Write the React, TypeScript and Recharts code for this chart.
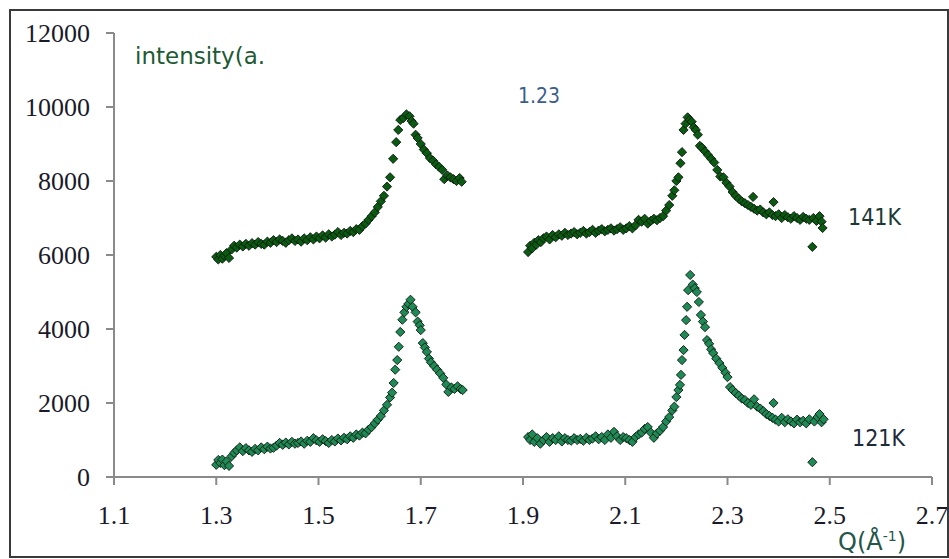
import { ScatterChart, Scatter, XAxis, YAxis } from "recharts";

// 141K, first window
const q141a = [
  1.300, 1.304, 1.308, 1.312, 1.316, 1.320, 1.325, 1.330, 1.335, 1.340, 1.346, 1.352, 1.358, 1.364, 1.370, 1.376,
  1.382, 1.388, 1.394, 1.400, 1.406, 1.412, 1.418, 1.424, 1.430, 1.436, 1.442, 1.448, 1.454, 1.460, 1.466, 1.472,
  1.478, 1.484, 1.490, 1.496, 1.502, 1.508, 1.514, 1.520, 1.526, 1.532, 1.538, 1.544, 1.550, 1.556, 1.562, 1.568,
  1.574, 1.580, 1.586, 1.592, 1.598, 1.604, 1.610, 1.616, 1.622, 1.628, 1.634, 1.640, 1.646, 1.652, 1.656, 1.660,
  1.666, 1.672, 1.678, 1.682, 1.686, 1.690, 1.694, 1.700, 1.706, 1.712, 1.718, 1.724, 1.730, 1.736, 1.742, 1.746,
  1.752, 1.758, 1.764, 1.770, 1.776, 1.780,
];
const i141a = [
  5950, 5880, 6000, 5900, 5980, 6050, 5920, 6150, 6250, 6200, 6280, 6230, 6300, 6250, 6320, 6280,
  6350, 6300, 6280, 6360, 6330, 6400, 6350, 6420, 6380, 6330, 6400, 6450, 6380, 6420, 6360, 6450,
  6400, 6480, 6420, 6500, 6450, 6530, 6470, 6560, 6500, 6550, 6620, 6540, 6600, 6580, 6650, 6620,
  6700, 6680, 6780, 6850, 6950, 7050, 7150, 7300, 7450, 7600, 7850, 8100, 8600, 9050, 9380, 9650,
  9700, 9800, 9750, 9620, 9550, 9250, 9160, 9000, 8850, 8750, 8620, 8550, 8450, 8380, 8300, 8050,
  8150, 8100, 8050, 8000, 8080, 7980,
];

// 141K, second window
const q141b = [
  1.910, 1.914, 1.918, 1.922, 1.926, 1.930, 1.935, 1.940, 1.946, 1.952, 1.958, 1.964, 1.970, 1.976, 1.982, 1.988,
  1.994, 2.000, 2.006, 2.012, 2.018, 2.024, 2.030, 2.036, 2.042, 2.048, 2.054, 2.060, 2.066, 2.072, 2.078, 2.084,
  2.090, 2.096, 2.102, 2.108, 2.114, 2.120, 2.126, 2.132, 2.138, 2.144, 2.150, 2.156, 2.162, 2.168, 2.174, 2.180,
  2.186, 2.192, 2.196, 2.200, 2.204, 2.208, 2.211, 2.214, 2.218, 2.222, 2.226, 2.230, 2.234, 2.238, 2.242, 2.246,
  2.250, 2.256, 2.262, 2.268, 2.274, 2.280, 2.286, 2.292, 2.298, 2.304, 2.310, 2.316, 2.322, 2.328, 2.334, 2.340,
  2.346, 2.350, 2.352, 2.358, 2.364, 2.370, 2.376, 2.382, 2.388, 2.390, 2.394, 2.400, 2.406, 2.412, 2.418, 2.424,
  2.430, 2.436, 2.442, 2.448, 2.454, 2.460, 2.466, 2.468, 2.474, 2.480, 2.484, 2.486,
];
const i141b = [
  6080, 6250, 6180, 6330, 6280, 6400, 6350, 6450, 6500, 6420, 6540, 6480, 6560, 6520, 6600, 6540,
  6580, 6620, 6560, 6600, 6650, 6580, 6620, 6680, 6600, 6660, 6700, 6640, 6680, 6720, 6660, 6700,
  6750, 6680, 6720, 6780, 6720, 6800, 6950, 6900, 6980, 6850, 6920, 6980, 6940, 7000, 7050, 7200,
  7350, 7600, 7750, 8000, 8100, 8480, 8780, 9380, 9550, 9720, 9650, 9600, 9450, 9380, 9250, 8950,
  8900, 8800, 8700, 8600, 8500, 8300, 8120, 8100, 7950, 7850, 7700, 7600, 7520, 7450, 7400, 7350,
  7300, 7570, 7250, 7200, 7230, 7150, 7100, 7150, 7080, 7430, 7050, 7100, 7000, 7080, 7020, 6980,
  7050, 7000, 6950, 7030, 6980, 6950, 6220, 7000, 6920, 7050, 6900, 6730,
];

// 121K, first window
const q121a = [
  1.300, 1.304, 1.308, 1.312, 1.316, 1.320, 1.325, 1.330, 1.335, 1.340, 1.346, 1.352, 1.358, 1.364, 1.370, 1.376,
  1.382, 1.388, 1.394, 1.400, 1.406, 1.412, 1.418, 1.424, 1.430, 1.436, 1.442, 1.448, 1.454, 1.460, 1.466, 1.472,
  1.478, 1.484, 1.490, 1.496, 1.502, 1.508, 1.514, 1.520, 1.526, 1.532, 1.538, 1.544, 1.550, 1.556, 1.562, 1.568,
  1.574, 1.580, 1.586, 1.592, 1.598, 1.604, 1.610, 1.616, 1.622, 1.628, 1.634, 1.640, 1.644, 1.647, 1.650, 1.654,
  1.657, 1.660, 1.664, 1.668, 1.672, 1.676, 1.680, 1.684, 1.690, 1.694, 1.698, 1.700, 1.704, 1.708, 1.712, 1.716,
  1.720, 1.726, 1.732, 1.738, 1.744, 1.750, 1.754, 1.760, 1.766, 1.772, 1.778, 1.782,
];
const i121a = [
  330, 460, 380, 470, 320, 420, 300, 560, 650, 720, 800, 700, 780, 720, 680, 760,
  720, 800, 750, 820, 770, 790, 850, 920, 870, 930, 880, 950, 900, 920, 960, 900,
  980, 950, 1050, 990, 950, 1020, 970, 920, 1000, 960, 1040, 990, 1060, 1020, 1100, 1060,
  1150, 1120, 1200, 1180, 1280, 1350, 1450, 1550, 1650, 1800, 1950, 2150, 2280, 2540, 2900, 3160,
  3520, 3920, 4250, 4450, 4600, 4680, 4790, 4600, 4450, 4200, 4100, 3970, 3620, 3500, 3380, 3200,
  3100, 3000, 2900, 2800, 2680, 2500, 2300, 2420, 2380, 2450, 2380, 2350,
];

// 121K, second window
const q121b = [
  1.910, 1.914, 1.918, 1.922, 1.928, 1.934, 1.940, 1.946, 1.952, 1.958, 1.964, 1.970, 1.976, 1.982, 1.988, 1.994,
  2.000, 2.006, 2.012, 2.018, 2.024, 2.030, 2.036, 2.042, 2.048, 2.054, 2.060, 2.066, 2.072, 2.078, 2.084, 2.090,
  2.096, 2.102, 2.108, 2.114, 2.120, 2.126, 2.132, 2.138, 2.144, 2.150, 2.156, 2.162, 2.168, 2.174, 2.180, 2.186,
  2.192, 2.196, 2.200, 2.204, 2.207, 2.209, 2.211, 2.214, 2.216, 2.219, 2.221, 2.223, 2.227, 2.232, 2.236, 2.240,
  2.244, 2.248, 2.252, 2.256, 2.260, 2.264, 2.268, 2.272, 2.278, 2.284, 2.290, 2.296, 2.300, 2.305, 2.310, 2.316,
  2.322, 2.328, 2.334, 2.340, 2.346, 2.352, 2.358, 2.364, 2.370, 2.376, 2.382, 2.388, 2.390, 2.394, 2.400, 2.406,
  2.412, 2.418, 2.424, 2.430, 2.436, 2.442, 2.448, 2.454, 2.460, 2.466, 2.470, 2.476, 2.480, 2.484, 2.488,
];
const i121b = [
  1080, 1000, 1150, 950, 1050, 900, 1000, 1080, 950, 1050, 1000, 1100, 960, 1050, 1000, 980,
  1050, 1000, 1030, 980, 1060, 1000, 1040, 1100, 1020, 1080, 1000, 1150, 1060, 1220, 1100, 1000,
  1080, 1050, 1000, 950, 1080, 1150, 1200, 1300, 1350, 1200, 1060, 1180, 1250, 1350, 1500, 1620,
  1800, 1900, 2160, 2350, 2490, 2760, 3160, 3430, 3840, 4240, 4600, 5050, 5460, 5200, 5100, 5000,
  4730, 4380, 4200, 4050, 3700, 3600, 3450, 3350, 3200, 3080, 2950, 2820, 2700, 2430, 2350, 2270,
  2200, 2120, 2080, 2000, 1950, 2100, 1900, 1850, 1780, 1700, 1650, 1600, 2000, 1550, 1500, 1600,
  1480, 1560, 1500, 1450, 1550, 1480, 1520, 1450, 1560, 400, 1500, 1620, 1700, 1480, 1560,
];

const xTicks = [1.1, 1.3, 1.5, 1.7, 1.9, 2.1, 2.3, 2.5, 2.7];
const yTicks = [0, 2000, 4000, 6000, 8000, 10000, 12000];

const toPoints = (q: number[], v: number[]) => q.map((x, i) => ({ q: x, y: v[i] }));
const data141 = [...toPoints(q141a, i141a), ...toPoints(q141b, i141b)];
const data121 = [...toPoints(q121a, i121a), ...toPoints(q121b, i121b)];

const makeDiamond = (fill: string) => (props: any) => {
  const { cx, cy } = props;
  if (cx == null || cy == null) return <g />;
  const r = 4.6;
  return (
    <polygon
      points={`${cx},${cy - r} ${cx + r},${cy} ${cx},${cy + r} ${cx - r},${cy}`}
      fill={fill}
      stroke="#0a1a0e"
      strokeWidth={0.9}
    />
  );
};

const tickFont = { fontFamily: "'Liberation Serif', serif", fontSize: 26, fill: "#1a1a2a" };
const labelFont = "'DejaVu Sans', sans-serif";
const condFont = "'DejaVu Sans Condensed', 'DejaVu Sans', sans-serif";

export default function App() {
  return (
    <div
      style={{
        position: "absolute",
        left: 9,
        top: 9,
        width: 936,
        height: 545,
        border: "2px solid #3a3a3a",
        background: "#fff",
        overflow: "hidden",
      }}
    >
      <ScatterChart width={936} height={545} margin={{ top: 22, right: 15, left: 0, bottom: 39 }}>
        <XAxis
          type="number"
          dataKey="q"
          domain={[1.1, 2.7]}
          ticks={xTicks}
          interval={0}
          height={40}
          tickSize={8}
          tickMargin={21}
          tickFormatter={(v: number) => v.toFixed(1)}
          axisLine={{ stroke: "#8a8a8a", strokeWidth: 2 }}
          tickLine={{ stroke: "#8a8a8a", strokeWidth: 2 }}
          tick={tickFont}
        />
        <YAxis
          type="number"
          dataKey="y"
          domain={[0, 12000]}
          ticks={yTicks}
          interval={0}
          width={103}
          tickSize={8}
          tickMargin={16}
          axisLine={{ stroke: "#8a8a8a", strokeWidth: 2 }}
          tickLine={{ stroke: "#8a8a8a", strokeWidth: 2 }}
          tick={tickFont}
        />
        <Scatter name="141K" data={data141} shape={makeDiamond("#0b5a12")} isAnimationActive={false} />
        <Scatter name="121K" data={data121} shape={makeDiamond("#1f8a55")} isAnimationActive={false} />
      </ScatterChart>
      <span style={{ position: "absolute", left: 124, top: 32, fontFamily: labelFont, fontSize: 23, color: "#1d5a34" }}>
        intensity(a.
      </span>
      <span style={{ position: "absolute", left: 507, top: 73, fontFamily: condFont, fontSize: 21, color: "#3b5d8c" }}>
        1.23
      </span>
      <span style={{ position: "absolute", left: 837, top: 193, fontFamily: condFont, fontSize: 23, color: "#1c3a34" }}>
        141K
      </span>
      <span style={{ position: "absolute", left: 841, top: 414, fontFamily: condFont, fontSize: 23, color: "#1c2a3a" }}>
        121K
      </span>
      <span style={{ position: "absolute", left: 827, top: 517, fontFamily: labelFont, fontSize: 24, color: "#24564a" }}>
        Q(Å<sup style={{ fontSize: 14 }}>-1</sup>)
      </span>
    </div>
  );
}
